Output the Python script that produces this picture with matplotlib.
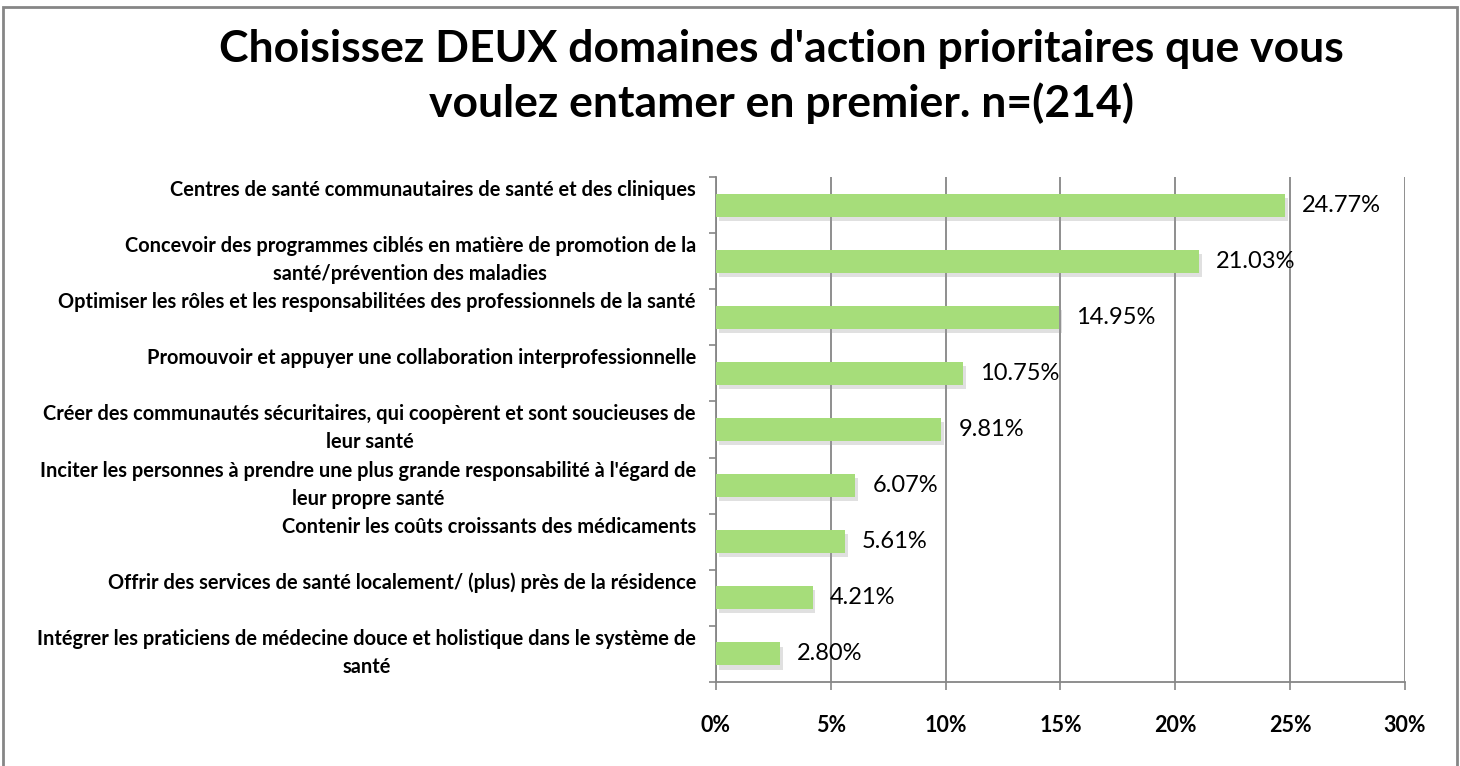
import matplotlib
matplotlib.use("Agg")
import matplotlib.pyplot as plt
import matplotlib.patheffects as pe
from matplotlib.patches import Rectangle

# Data
categories = [
    "Centres de santé communautaires de santé et des cliniques",
    "Concevoir des programmes ciblés en matière de promotion de la\nsanté/prévention des maladies",
    "Optimiser les rôles et les responsabilitées des professionnels de la santé",
    "Promouvoir et appuyer une collaboration interprofessionnelle",
    "Créer des communautés sécuritaires, qui coopèrent et sont soucieuses de\nleur santé",
    "Inciter les personnes à prendre une plus grande responsabilité à l'égard de\nleur propre santé",
    "Contenir les coûts croissants des médicaments",
    "Offrir des services de santé localement/ (plus) près de la résidence",
    "Intégrer les praticiens de médecine douce et holistique dans le système de\nsanté",
]
values = [24.77, 21.03, 14.95, 10.75, 9.81, 6.07, 5.61, 4.21, 2.80]
xticks = [0, 5, 10, 15, 20, 25, 30]
title = "Choisissez DEUX domaines d'action prioritaires que vous\nvoulez entamer en premier. n=(214)"

plt.rcParams['font.family'] = ['Lato', 'DejaVu Sans']
grey = '#868686'
green = '#a6dd7a'

fig = plt.figure(figsize=(14.6, 7.66), dpi=100)
ax = fig.add_axes([0.4904, 0.1097, 0.4719, 0.6592])

ypos = list(range(len(categories)))
bars = ax.barh(ypos, values, height=0.41, color=green, zorder=3)
for b in bars:
    b.set_path_effects([pe.SimplePatchShadow(offset=(2, -3), shadow_rgbFace='#999999', alpha=0.3),
                        pe.Normal()])

ax.set_ylim(len(categories) - 0.5, -0.5)
ax.set_xlim(0, 30)
ax.set_xticks(xticks)
ax.set_xticklabels([f"{t}%" for t in xticks], fontsize=15.5, fontweight='bold')
ax.tick_params(axis='x', length=6, color=grey, width=1.2, pad=18)

# category ticks sit on band boundaries
ax.set_yticks([i + 0.5 for i in range(-1, len(categories))])
ax.set_yticklabels([])
ax.tick_params(axis='y', length=5, color=grey, width=1.2)

ax.grid(axis='x', color=grey, linewidth=1.3, zorder=0)
ax.set_axisbelow(True)
for s in ['top', 'right']:
    ax.spines[s].set_visible(False)
for s in ['left', 'bottom']:
    ax.spines[s].set_color(grey)
    ax.spines[s].set_linewidth(1.3)

# category labels: laid out as two-line boxes, top aligned
for i, lab in enumerate(categories):
    ax.annotate(lab, xy=(0, i), xycoords=('axes fraction', 'data'),
                xytext=(-20, 25), textcoords='offset pixels',
                ha='right', va='top', multialignment='center',
                fontsize=14.4, fontweight='bold', linespacing=1.5)

# value labels
for i, v in enumerate(values):
    ax.annotate(f"{v:.2f}%", xy=(v, i), xytext=(17, 0), textcoords='offset pixels',
                ha='left', va='center', fontsize=17)

fig.text(0.535, 0.9, title, ha='center', va='center', fontsize=32,
         fontweight='bold', linespacing=1.4)

fig.patches.append(Rectangle((3 / 1460, -0.05), 1454 / 1460, 1 - 7 / 766 + 0.05,
                             transform=fig.transFigure, fill=False,
                             edgecolor=grey, linewidth=2))

fig.savefig("out.png", dpi=100)
